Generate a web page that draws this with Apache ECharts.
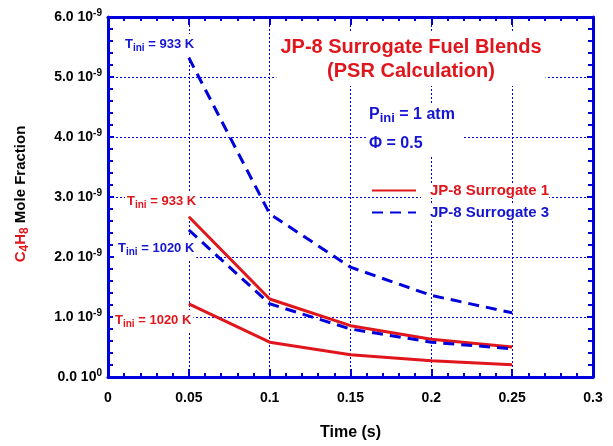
<!DOCTYPE html>
<html>
<head>
<meta charset="utf-8">
<script src="https://cdn.jsdelivr.net/npm/echarts@6/dist/echarts.min.js"></script>
<style>html,body{margin:0;padding:0;background:#fff}#c{width:613px;height:446px}</style>
</head>
<body>
<div id="c"></div>
<script>
// Time (s)
var times = [0.05, 0.10, 0.15, 0.20, 0.25];
// C4H8 mole fraction, in units of 1e-9
var surr1_933 = [2.67, 1.30, 0.855, 0.63, 0.50];
var surr1_1020 = [1.22, 0.58, 0.37, 0.27, 0.205];
var surr3_933 = [5.32, 2.72, 1.83, 1.36, 1.07];
var surr3_1020 = [2.45, 1.22, 0.80, 0.58, 0.47];
// axis ticks
var xTicks = [0, 0.05, 0.1, 0.15, 0.2, 0.25, 0.3];
var yTicks = [0, 1, 2, 3, 4, 5, 6];

var RED = '#e0161c', BLUE = '#0000dd', TBLUE = '#1414d2';
var FONT = 'Arial, "Liberation Sans", sans-serif';

function pairs(ys){ return times.map(function(t,i){ return [t, ys[i]]; }); }

var chart = echarts.init(document.getElementById('c'), null, {renderer:'canvas'});

function axisCommon(pos, isX){
  return {
    type:'value', position: pos,
    min: isX ? xTicks[0] : yTicks[0],
    max: isX ? xTicks[xTicks.length-1] : yTicks[yTicks.length-1],
    interval: isX ? 0.05 : 1,
    axisLine:{show:true, onZero:false, lineStyle:{color:BLUE, width:3}},
    axisTick:{show:true, inside:true, length: isX ? 8 : 6, lineStyle:{color:BLUE, width:2}},
    minorTick:{show:true, splitNumber:5, length: isX ? 4 : 5, lineStyle:{color:BLUE, width:2}},
    splitLine:{show:false},
    axisLabel:{show:false}
  };
}

var xb = axisCommon('bottom', true);
xb.splitLine = {show:true, lineStyle:{color:BLUE, width:1, type:[2,2]}};
xb.axisLabel = {show:true, color:'#000', fontSize:14, fontWeight:'bold', fontFamily:FONT, margin:14,
  formatter:function(v){ return String(+v.toFixed(2)); }};
xb.name = 'Time (s)';
xb.nameLocation = 'middle';
xb.nameGap = 48;
xb.nameTextStyle = {color:'#000', fontSize:16, fontWeight:'bold', fontFamily:FONT};
var xt = axisCommon('top', true);

var yl = axisCommon('left', false);
yl.splitLine = {show:true, lineStyle:{color:BLUE, width:1, type:[2,2]}};
yl.axisLabel = {show:true, margin:6, fontFamily:FONT,
  formatter:function(v){
    if (v === 0) return '{a|0.0 10}{s|0}';
    return '{a|' + v.toFixed(1) + ' 10}{s|-9}';
  },
  rich:{
    a:{color:'#000', fontSize:14, fontWeight:'bold', fontFamily:FONT, lineHeight:17},
    s:{color:'#000', fontSize:10, fontWeight:'bold', fontFamily:FONT, verticalAlign:'top', lineHeight:17, padding:[0,0,7,0]}
  }
};
var yr = axisCommon('right', false);

function subRich(col, fs){
  return {
    m:{fill:col, fontSize:fs, fontWeight:'bold', fontFamily:FONT, lineHeight:fs+4},
    b:{fill:col, fontSize:fs-3, fontWeight:'bold', fontFamily:FONT, verticalAlign:'bottom', lineHeight:fs+4, padding:[6,0,0,0]}
  };
}

function tLabel(x, y, col, txt, pad){
  return {type:'text', z:1, x:x, y:y,
    style:{text:'{m|T}{b|ini}{m| = ' + txt + '}', rich:subRich(col, 13), backgroundColor:'#fff',
      padding:pad || [2,2,2,2]}};
}

var option = {
  animation:false,
  grid:{left:108, right:20, top:17, bottom:68, containLabel:false},
  xAxis:[xb, xt],
  yAxis:[yl, yr],
  legend:{
    orient:'vertical', left:366, top:178, itemWidth:44, itemHeight:14, itemGap:7,
    itemStyle:{opacity:0},
    data:[
      {name:'JP-8 Surrogate 1', textStyle:{color:RED}},
      {name:'JP-8 Surrogate 3', textStyle:{color:TBLUE}}
    ],
    textStyle:{fontSize:15, fontWeight:'bold', fontFamily:FONT, padding:[0,0,0,9], backgroundColor:'#fff'}
  },
  series:[
    {name:'JP-8 Surrogate 1', type:'line', data:pairs(surr1_933), symbol:'none', z:3,
      lineStyle:{color:RED, width:3, type:'solid'}, itemStyle:{color:RED}},
    {name:'JP-8 Surrogate 1', type:'line', data:pairs(surr1_1020), symbol:'none', z:3,
      lineStyle:{color:RED, width:3, type:'solid'}, itemStyle:{color:RED}},
    {name:'JP-8 Surrogate 3', type:'line', data:pairs(surr3_933), symbol:'none', z:4,
      lineStyle:{color:BLUE, width:3, type:[11,7]}, itemStyle:{color:BLUE}},
    {name:'JP-8 Surrogate 3', type:'line', data:pairs(surr3_1020), symbol:'none', z:4,
      lineStyle:{color:BLUE, width:3, type:[11,7]}, itemStyle:{color:BLUE}}
  ],
  graphic:[
    {type:'text', z:1, x:411, y:32,
      style:{text:'JP-8 Surrogate Fuel Blends\n(PSR Calculation)', fill:RED, fontSize:20, fontWeight:'bold',
        fontFamily:FONT, align:'center', verticalAlign:'top', lineHeight:24, backgroundColor:'#fff', padding:[3,4,3,4]}},
    {type:'rect', z:1, shape:{x:366, y:103, width:96, height:52}, style:{fill:'#fff'}},
    {type:'text', z:1, x:369, y:105,
      style:{text:'{m|P}{b|ini}{m| = 1 atm}', rich:subRich(TBLUE, 16)}},
    {type:'text', z:1, x:369, y:136,
      style:{text:'Φ = 0.5', fill:TBLUE, fontSize:16, fontWeight:'bold', fontFamily:FONT}},
    tLabel(123, 34, TBLUE, '933 K'),
    tLabel(125, 191, RED, '933 K', [2,2,6,2]),
    tLabel(116, 236, TBLUE, '1020 K', [4,2,4,2]),
    tLabel(113, 310, RED, '1020 K'),
    {type:'text', z:5, rotation:Math.PI/2, x:21, y:194,
      style:{text:'{r|C}{rs|4}{r|H}{rs|8}{k| Mole Fraction}', align:'center', verticalAlign:'middle',
        rich:{
          r:{fill:RED, fontSize:15, fontWeight:'bold', fontFamily:FONT, lineHeight:19},
          rs:{fill:RED, fontSize:12, fontWeight:'bold', fontFamily:FONT, verticalAlign:'bottom', lineHeight:19, padding:[7,0,0,0]},
          k:{fill:'#000', fontSize:15, fontWeight:'bold', fontFamily:FONT, lineHeight:19}
        }}}
  ]
};
chart.setOption(option);
</script>
</body>
</html>
